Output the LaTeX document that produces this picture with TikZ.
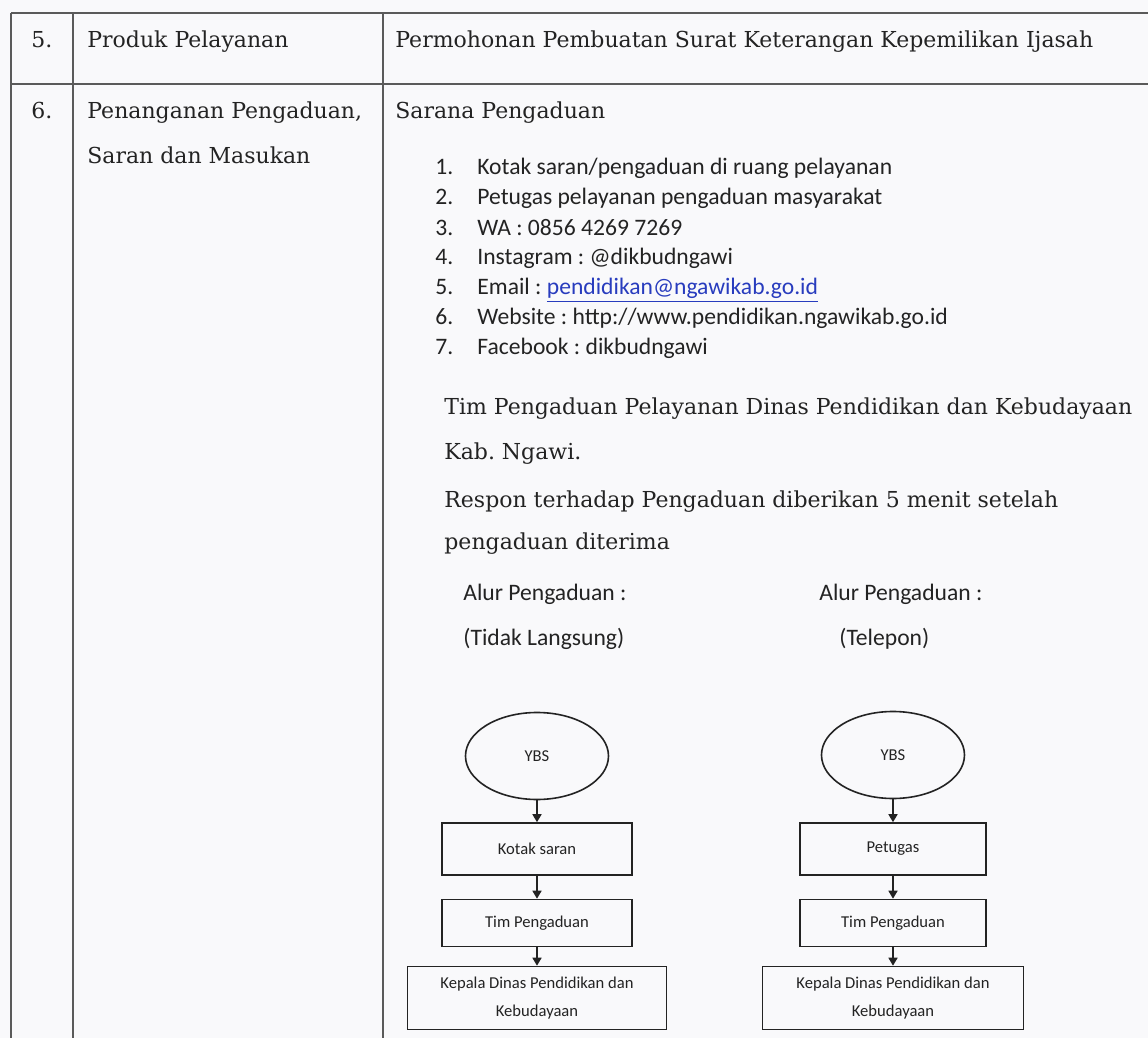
\documentclass[tikz,border=0pt]{standalone}
\usepackage{fontspec}
\setmainfont{DejaVu Serif}
\newfontfamily\calfont{Carlito}
\usetikzlibrary{shapes.geometric,arrows.meta}
\definecolor{bg}{RGB}{249,249,251}
\definecolor{ink}{RGB}{35,35,35}
\definecolor{rulec}{RGB}{90,90,90}
\definecolor{linkblue}{RGB}{40,60,190}
\frenchspacing
\begin{document}
\begin{tikzpicture}[x=0.5pt,y=-0.5pt,
  serif/.style={anchor=base west,inner sep=0pt,text=ink,font=\fontsize{11}{22}\selectfont},
  listtxt/.style={anchor=base west,inner sep=0pt,text=ink,font=\calfont\fontsize{11.8}{15}\selectfont},
  flowtxt/.style={font=\calfont\fontsize{8.3}{14}\selectfont,text=ink},
  fbox/.style={draw=ink,line width=0.8pt,align=center,flowtxt,inner sep=1pt},
  fell/.style={draw=ink,line width=0.8pt,ellipse,flowtxt,minimum width=71.5pt,minimum height=43.5pt},
  arr/.style={-{Triangle[length=4pt,width=4.5pt]},draw=ink,line width=0.8pt},
  tline/.style={draw=rulec,line width=1pt}]

\fill[bg] (0,0) rectangle (1148,1038);
\useasboundingbox (0,0) rectangle (1148,1038);

% table rules
\draw[tline] (11,13) -- (1148,13);
\draw[tline] (11,84) -- (1148,84);
\draw[tline] (11,13) -- (11,1038);
\draw[tline] (73,13) -- (73,1038);
\draw[tline] (383,13) -- (383,1038);

% row 5
\node[serif] (n5) at (31,48) {5.};
\node[serif] (p5) at (87,48) {Produk Pelayanan};
\node[serif] (v5) at (395,48) {Permohonan Pembuatan Surat Keterangan Kepemilikan Ijasah};

% row 6
\node[serif] (n6) at (31,119) {6.};
\node[serif] (p6a) at (87,119) {Penanganan Pengaduan,};
\node[serif] (p6b) at (87,164) {Saran dan Masukan};
\node[serif] (sar) at (395,119) {Sarana Pengaduan};

% list
\node[listtxt] (l1n) at (435,175) {1.};
\node[listtxt] (l1) at (477,175) {Kotak saran/pengaduan di ruang pelayanan};
\node[listtxt] (l2n) at (435,205) {2.};
\node[listtxt] (l2) at (477,205) {Petugas pelayanan pengaduan masyarakat};
\node[listtxt] (l3n) at (435,235) {3.};
\node[listtxt] (l3) at (477,235) {WA : 0856 4269 7269};
\node[listtxt] (l4n) at (435,265) {4.};
\node[listtxt] (l4) at (477,265) {Instagram : @dikbudngawi};
\node[listtxt] (l5n) at (435,295) {5.};
\node[listtxt] (l5) at (477,295) {Email : \textcolor{linkblue}{\underline{pendidikan@ngawikab.go.id}}};
\node[listtxt] (l6n) at (435,325) {6.};
\node[listtxt] (l6) at (477,325) {Website : http://www.pendidikan.ngawikab.go.id};
\node[listtxt] (l7n) at (435,355) {7.};
\node[listtxt] (l7) at (477,355) {Facebook : dikbudngawi};

% paragraphs
\node[serif] (tim1) at (444,415) {Tim Pengaduan Pelayanan Dinas Pendidikan dan Kebudayaan};
\node[serif] (tim2) at (444,459) {Kab. Ngawi.};
\node[serif] (res1) at (444,507) {Respon terhadap Pengaduan diberikan 5 menit setelah};
\node[serif] (res2) at (444,549) {pengaduan diterima};

% flow headings
\node[listtxt] (al1) at (463,600) {Alur Pengaduan :};
\node[listtxt] (al2) at (819,600) {Alur Pengaduan :};
\node[listtxt] (tl1) at (463,645) {(Tidak Langsung)};
\node[listtxt] (tl2) at (839,645) {(Telepon)};

% left flowchart
\node[fell] (ya) at (537,756) {YBS};
\node[fbox,minimum width=95pt,minimum height=26pt] (ka) at (537,849) {Kotak saran};
\node[fbox,minimum width=95pt,minimum height=23.5pt] (ta) at (537,923) {Tim Pengaduan};
\node[fbox,minimum width=129.5pt,minimum height=31.5pt] (kda) at (537,998) {Kepala Dinas Pendidikan dan\\Kebudayaan};
\draw[arr] (ya.south) -- (ka.north);
\draw[arr] (ka.south) -- (ta.north);
\draw[arr] (ta.south) -- (kda.north);

% right flowchart
\node[fell] (yb) at (893,755) {YBS};
\node[fbox,minimum width=93pt,minimum height=26pt] (pb) at (893,849) {Petugas};
\node[fbox,minimum width=93pt,minimum height=23.5pt] (tb) at (893,923) {Tim Pengaduan};
\node[fbox,minimum width=130.5pt,minimum height=31.5pt] (kdb) at (893,998) {Kepala Dinas Pendidikan dan\\Kebudayaan};
\draw[arr] (yb.south) -- (pb.north);
\draw[arr] (pb.south) -- (tb.north);
\draw[arr] (tb.south) -- (kdb.north);
\end{tikzpicture}
\end{document}
